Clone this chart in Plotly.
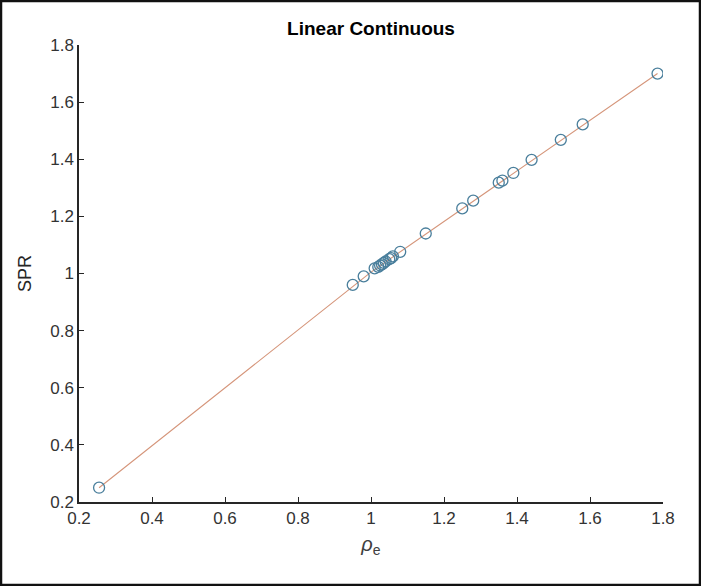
import plotly.graph_objects as go

# measured points (rho_e vs SPR)
rho_e = [0.255, 0.95, 0.98, 1.01, 1.02, 1.025, 1.03, 1.035, 1.04, 1.05, 1.055, 1.06,
         1.08, 1.15, 1.25, 1.28, 1.35, 1.36, 1.39, 1.44, 1.52, 1.58, 1.785]
spr = [0.25, 0.96, 0.99, 1.018, 1.023, 1.028, 1.032, 1.037, 1.042, 1.05, 1.054, 1.06,
       1.076, 1.14, 1.228, 1.255, 1.318, 1.325, 1.352, 1.398, 1.468, 1.522, 1.70]

# piecewise linear continuous fit (knots)
fit_x = [0.255, 1.0, 1.785]
fit_y = [0.25, 1.005, 1.70]

x_ticks = [0.2, 0.4, 0.6, 0.8, 1, 1.2, 1.4, 1.6, 1.8]
y_ticks = [0.2, 0.4, 0.6, 0.8, 1, 1.2, 1.4, 1.6, 1.8]

W, H = 701, 586
L, R, T, B = 79, 38, 45, 84
FONT = "Liberation Sans, Arial, Helvetica"

fig = go.Figure()
fig.add_trace(go.Scatter(x=fit_x, y=fit_y, mode="lines",
                         line=dict(color="#D5957A", width=1.1), showlegend=False))
fig.add_trace(go.Scatter(x=rho_e, y=spr, mode="markers", showlegend=False,
                         marker=dict(symbol="circle-open", size=11,
                                     color="#4A7F9C", line=dict(width=1.3))))

axis_common = dict(
    showgrid=False, zeroline=False, showline=True, linecolor="#262626", linewidth=1.5,
    ticks="inside", ticklen=5, tickcolor="#262626", tickwidth=1,
    tickfont=dict(family=FONT, size=17, color="#333333"),
    mirror=False,
)
fig.update_xaxes(range=[0.2, 1.8], tickvals=x_ticks, **axis_common,
                 title=dict(text="<i>ρ</i><sub>e</sub>", standoff=10,
                            font=dict(family=FONT, size=20, color="#404040")))
fig.update_yaxes(range=[0.2, 1.8], tickvals=y_ticks, **axis_common,
                 title=dict(text="SPR", standoff=14,
                            font=dict(family=FONT, size=18, color="#262626")))

# black frame round the whole picture
pw, ph = W - L - R, H - T - B
fig.add_shape(type="rect", xref="paper", yref="paper",
              x0=-(L - 1) / pw, x1=1 + (R - 1) / pw, y0=-(B - 1) / ph, y1=1 + (T - 1) / ph,
              line=dict(color="#111111", width=2.5))

fig.update_layout(
    width=W, height=H, margin=dict(l=L, r=R, t=T, b=B),
    paper_bgcolor="white", plot_bgcolor="white",
    title=dict(text="<b>Linear Continuous</b>", x=(L + pw / 2) / W, xanchor="center",
               y=1 - 28 / H, yanchor="middle",
               font=dict(family=FONT, size=19, color="black")),
)

fig.write_html("out.html", config={"displayModeBar": False},
               post_script="document.body.style.margin='0px';")
